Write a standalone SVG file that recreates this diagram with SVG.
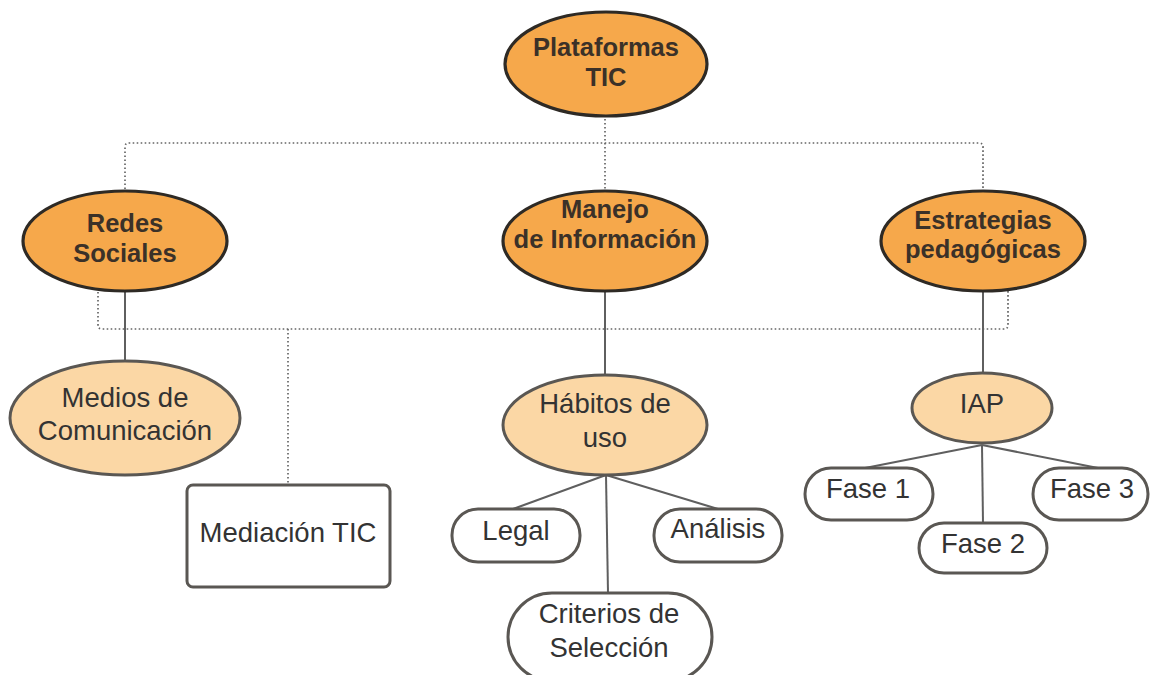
<svg xmlns="http://www.w3.org/2000/svg" width="1150" height="675" viewBox="0 0 1150 675">
<style>
.main{fill:#f6a84b;stroke:#2e2a25;stroke-width:3.2}
.sub{fill:#fbd7a5;stroke:#5a5753;stroke-width:3}
.box{fill:#ffffff;stroke:#5a5753;stroke-width:3}
.bt{font-family:"Liberation Sans",Arial,sans-serif;font-weight:bold;font-size:25.5px;fill:#3b3128;text-anchor:middle}
.rt{font-family:"Liberation Sans",Arial,sans-serif;font-size:27.5px;fill:#333333;text-anchor:middle}
.solid{fill:none;stroke:#5f5f5f;stroke-width:2}
.dot{fill:none;stroke:#666666;stroke-width:1.7;stroke-dasharray:1.6 2.4}
</style>
<rect width="1150" height="675" fill="#ffffff"/>
<g id="connectors">
<path class="dot" d="M605,115 V192"/>
<path class="dot" d="M125,193 V147 Q125,143 129,143 H979 Q983,143 983,147 V192"/>
<path class="dot" d="M98,288 V325 Q98,329 102,329 H1004 Q1008,329 1008,325 V288"/>
<path class="dot" d="M288,329 V485"/>
<path class="solid" d="M125,290 V362"/>
<path class="solid" d="M605,290 V375"/>
<path class="solid" d="M983,290 V373"/>
<path class="solid" d="M606,475 L513,509"/>
<path class="solid" d="M606,475 L718,509"/>
<path class="solid" d="M606,475 L608,593"/>
<path class="solid" d="M982,445 L865,468"/>
<path class="solid" d="M982,445 L1098,468"/>
<path class="solid" d="M982,445 L983,523"/>
</g>
<g id="plataformas">
<ellipse class="main" cx="606" cy="64" rx="101" ry="52"/>
<text class="bt" x="606" y="56">Plataformas</text>
<text class="bt" x="606" y="86">TIC</text>
</g>
<g id="redes">
<ellipse class="main" cx="125" cy="241" rx="102" ry="50"/>
<text class="bt" x="125" y="232">Redes</text>
<text class="bt" x="125" y="262">Sociales</text>
</g>
<g id="manejo">
<ellipse class="main" cx="605" cy="241" rx="102" ry="50"/>
<text class="bt" x="605" y="218">Manejo</text>
<text class="bt" x="605" y="248">de Información</text>
</g>
<g id="estrategias">
<ellipse class="main" cx="983" cy="241" rx="102" ry="50"/>
<text class="bt" x="983" y="229">Estrategias</text>
<text class="bt" x="983" y="258">pedagógicas</text>
</g>
<g id="medios">
<ellipse class="sub" cx="125" cy="418" rx="115" ry="57"/>
<text class="rt" x="125" y="407">Medios de</text>
<text class="rt" x="125" y="440">Comunicación</text>
</g>
<g id="mediacion">
<rect class="box" x="187" y="485" width="203" height="102" rx="6"/>
<text class="rt" x="288" y="542">Mediación TIC</text>
</g>
<g id="habitos">
<ellipse class="sub" cx="605" cy="425" rx="102" ry="50"/>
<text class="rt" x="605" y="413">Hábitos de</text>
<text class="rt" x="605" y="447">uso</text>
</g>
<g id="legal">
<rect class="box" x="452" y="509" width="128" height="53" rx="26"/>
<text class="rt" x="516" y="540">Legal</text>
</g>
<g id="analisis">
<rect class="box" x="654" y="509" width="128" height="53" rx="26"/>
<text class="rt" x="718" y="538">Análisis</text>
</g>
<g id="criterios">
<rect class="box" x="508" y="593" width="204" height="88" rx="44"/>
<text class="rt" x="609" y="623">Criterios de</text>
<text class="rt" x="609" y="657">Selección</text>
</g>
<g id="iap">
<ellipse class="sub" cx="982" cy="408" rx="70" ry="35"/>
<text class="rt" x="982" y="413">IAP</text>
</g>
<g id="fase1">
<rect class="box" x="805" y="468" width="128" height="52" rx="26"/>
<text class="rt" x="868" y="498">Fase 1</text>
</g>
<g id="fase2">
<rect class="box" x="919" y="523" width="128" height="50" rx="25"/>
<text class="rt" x="983" y="553">Fase 2</text>
</g>
<g id="fase3">
<rect class="box" x="1033" y="468" width="115" height="52" rx="26"/>
<text class="rt" x="1092" y="498">Fase 3</text>
</g>
</svg>
